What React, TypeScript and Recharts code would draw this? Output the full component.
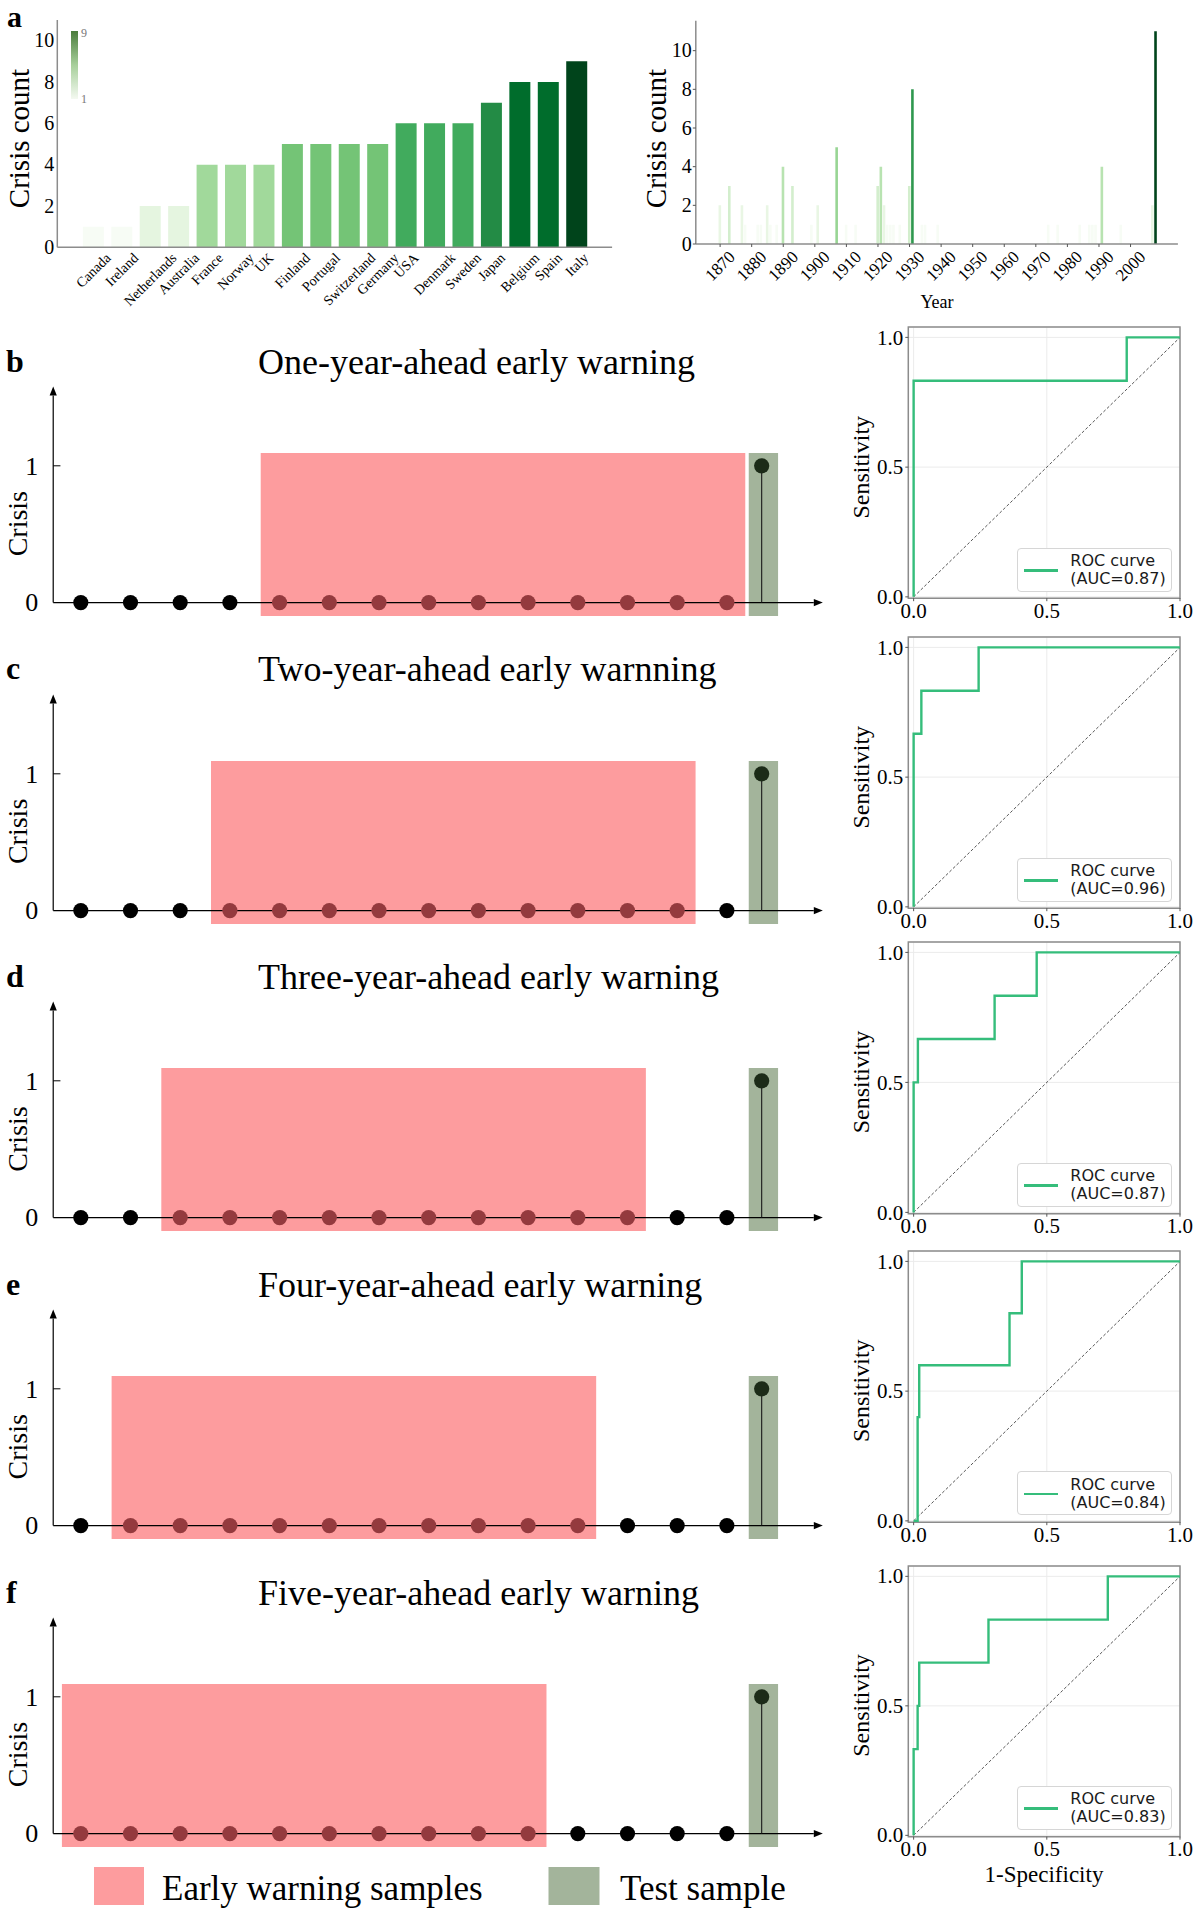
import React from "react";
import {
  BarChart,
  Bar,
  Cell,
  XAxis,
  YAxis,
  ScatterChart,
  Scatter,
  LineChart,
  Line,
  CartesianGrid,
  ReferenceArea,
  ReferenceLine,
  Legend,
} from "recharts";

const SERIF = '"Liberation Serif", "Times New Roman", serif';
const SANS = '"DejaVu Sans", sans-serif';
const FRAME = "#8c8c8c";
const ROC_GREEN = "#35bd7b";

// panel a (left): crises per country
const countries = [
  "Canada", "Ireland", "Netherlands", "Australia", "France", "Norway", "UK",
  "Finland", "Portugal", "Switzerland", "Germany", "USA", "Denmark", "Sweden",
  "Japan", "Belgium", "Spain", "Italy",
];
const countryCrises = [1, 1, 2, 2, 4, 4, 4, 5, 5, 5, 5, 6, 6, 6, 7, 8, 8, 9];
const countTicks = [0, 2, 4, 6, 8, 10];

// panel a (right): crises per year
const crisisYears = [
  1870, 1873, 1877, 1878, 1882, 1883, 1885, 1886, 1888, 1890, 1893, 1899, 1901,
  1907, 1910, 1913, 1920, 1921, 1922, 1923, 1924, 1925, 1927, 1930, 1931, 1934,
  1935, 1939, 1974, 1977, 1984, 1987, 1988, 1989, 1991, 1997, 2007, 2008,
];
const yearCrises = [
  2, 3, 2, 1, 1, 1, 2, 1, 1, 4, 3, 1, 2, 5, 1, 1, 3, 4, 2, 1, 1, 1, 1, 3, 8, 1,
  1, 1, 1, 1, 1, 1, 1, 1, 4, 1, 2, 11,
];
const yearTicks = [1870, 1880, 1890, 1900, 1910, 1920, 1930, 1940, 1950, 1960, 1970, 1980, 1990, 2000];

// panels b-f: early warning timelines
const panelLetters = ["b", "c", "d", "e", "f"];
const warningTitles = [
  "One-year-ahead early warning",
  "Two-year-ahead early warnning",
  "Three-year-ahead early warning",
  "Four-year-ahead early warning",
  "Five-year-ahead early warning",
];
const sampleIndex = [0, 1, 2, 3, 4, 5, 6, 7, 8, 9, 10, 11, 12, 13];
const sampleCrisis = [0, 0, 0, 0, 0, 0, 0, 0, 0, 0, 0, 0, 0, 0];
const warningStart = [4, 3, 2, 1, 0];
const warningLength = 10;
const testIndex = 13.7;
const testCrisis = 1;

// ROC curves
const fprOne = [0, 0, 0.8, 0.8, 1];
const tprOne = [0, 0.833, 0.833, 1, 1];
const fprTwo = [0, 0, 0.029, 0.029, 0.244, 0.244, 1];
const tprTwo = [0, 0.667, 0.667, 0.833, 0.833, 1, 1];
const fprThree = [0, 0, 0.016, 0.016, 0.304, 0.304, 0.462, 0.462, 1];
const tprThree = [0, 0.5, 0.5, 0.667, 0.667, 0.833, 0.833, 1, 1];
const fprFour = [0, 0.015, 0.015, 0.021, 0.021, 0.36, 0.36, 0.406, 0.406, 1];
const tprFour = [0, 0, 0.4, 0.4, 0.6, 0.6, 0.8, 0.8, 1, 1];
const fprFive = [0, 0, 0.015, 0.015, 0.021, 0.021, 0.281, 0.281, 0.729, 0.729, 1];
const tprFive = [0, 0.333, 0.333, 0.5, 0.5, 0.667, 0.667, 0.833, 0.833, 1, 1];
const rocFpr = [fprOne, fprTwo, fprThree, fprFour, fprFive];
const rocTpr = [tprOne, tprTwo, tprThree, tprFour, tprFive];
const aucValues = [0.87, 0.96, 0.87, 0.84, 0.83];
const rocTicks = [0, 0.5, 1];

// layout (page px)
const timelineZero = [602.7, 910.4, 1218.1, 1525.8, 1833.5];
const TL_UNIT = 136.8;
const rocOne = [337.5, 647.5, 952, 1261, 1576];
const rocZero = [597, 907, 1212, 1520.5, 1835];

const GREENS = ["#f7fcf5", "#e5f5e0", "#c7e9c0", "#a1d99b", "#74c476", "#41ab5d", "#238b45", "#006d2c", "#00441b"];

function greens(t: number) {
  const p = Math.max(0, Math.min(1, t)) * 8;
  const i = Math.min(7, Math.floor(p));
  const f = p - i;
  const a = GREENS[i], b = GREENS[i + 1];
  const ch = (h: string, k: number) => parseInt(h.slice(1 + 2 * k, 3 + 2 * k), 16);
  const mix = [0, 1, 2].map((k) => Math.round(ch(a, k) + (ch(b, k) - ch(a, k)) * f));
  return `rgb(${mix.join(",")})`;
}

let measureCtx: CanvasRenderingContext2D | null = null;
function textWidth(s: string, size: number) {
  if (!measureCtx && typeof document !== "undefined") {
    measureCtx = document.createElement("canvas").getContext("2d");
  }
  if (!measureCtx) return s.length * size * 0.5;
  measureCtx.font = `${size}px "Liberation Serif"`;
  return measureCtx.measureText(s).width;
}

// rotated tick, centred under the tick like matplotlib rotation=45
const slantTick = (fontSize: number, pad: number) => (props: any) => {
  const { x, y, payload } = props;
  const label = String(payload.value);
  const d = (textWidth(label, fontSize) + fontSize * 0.68) / (2 * Math.SQRT2);
  const cy = y + pad + d;
  return (
    <text
      x={x}
      y={cy}
      textAnchor="middle"
      dominantBaseline="central"
      fontSize={fontSize}
      fontFamily={SERIF}
      fill="#000"
      transform={`rotate(-45 ${x} ${cy})`}
    >
      {label}
    </text>
  );
};

const leftTick = (fontSize: number, fmt?: (v: number) => string) => (props: any) => {
  const { x, y, payload } = props;
  return (
    <text x={x} y={y} dy="0.34em" textAnchor="end" fontSize={fontSize} fontFamily={SERIF} fill="#000">
      {fmt ? fmt(payload.value) : payload.value}
    </text>
  );
};

const bottomTick = (fontSize: number, fmt?: (v: number) => string) => (props: any) => {
  const { x, y, payload } = props;
  return (
    <text x={x} y={y} dy="0.7em" textAnchor="middle" fontSize={fontSize} fontFamily={SERIF} fill="#000">
      {fmt ? fmt(payload.value) : payload.value}
    </text>
  );
};

const oneDecimal = (v: number) => v.toFixed(1);

const arrowLine = (props: any) => {
  const { x1, y1, x2, y2 } = props;
  const dx = x2 - x1, dy = y2 - y1;
  const len = Math.hypot(dx, dy) || 1;
  const ux = dx / len, uy = dy / len;
  const L = 9, w = 3.6;
  const bx = x2 - ux * L, by = y2 - uy * L;
  const pts = `${x2},${y2} ${bx - uy * w},${by + ux * w} ${bx + uy * w},${by - ux * w}`;
  return (
    <g>
      <line x1={x1} y1={y1} x2={bx} y2={by} stroke="#000" strokeWidth={1.2} />
      <polygon points={pts} fill="#000" />
    </g>
  );
};

const sampleDot = (props: any) => {
  const { cx, cy, payload } = props;
  return <circle cx={cx} cy={cy} r={7.6} fill={payload && payload.inWindow ? "#943a3e" : "#000"} />;
};
const testDot = (props: any) => <circle cx={props.cx} cy={props.cy} r={7.6} fill="#1c2b18" />;

const countryData = countries.map((c, i) => ({ country: c, crises: countryCrises[i] }));
const yearData = crisisYears.map((y, i) => ({ year: y, crises: yearCrises[i] }));

function CountryChart() {
  const frame = { stroke: FRAME, strokeWidth: 1.5 };
  return (
    <div style={{ position: "absolute", left: 0, top: 0, fontFamily: SERIF }}>
      <BarChart width={620} height={320} data={countryData} margin={{ top: 20, right: 7.9, bottom: 0, left: 0 }} barCategoryGap="12.5%">
        <XAxis
          dataKey="country"
          interval={0}
          height={72.7}
          padding={{ left: 22, right: 21 }}
          tickLine={false}
          tickSize={0}
          tickMargin={0}
          axisLine={frame}
          tick={slantTick(14, 5)}
        />
        <XAxis xAxisId="top" orientation="top" dataKey="country" height={0} tick={false} tickLine={false} axisLine={frame} padding={{ left: 22, right: 21 }} />
        <YAxis
          domain={[0, 11]}
          allowDataOverflow
          ticks={countTicks}
          width={57.3}
          tickLine={false}
          tickSize={0}
          tickMargin={3}
          axisLine={frame}
          tick={leftTick(20)}
        />
        <YAxis yAxisId="right" orientation="right" domain={[0, 11]} width={0} tick={false} tickLine={false} axisLine={frame} />
        <Bar dataKey="crises" isAnimationActive={false}>
          {countryData.map((d, i) => (
            <Cell key={i} fill={greens((d.crises - 1) / 8)} />
          ))}
        </Bar>
      </BarChart>
    </div>
  );
}

function YearChart() {
  const frame = { stroke: FRAME, strokeWidth: 1.5 };
  const maxC = Math.max(...yearCrises);
  return (
    <div style={{ position: "absolute", left: 620, top: 0, fontFamily: SERIF }}>
      <BarChart width={580} height={320} data={yearData} margin={{ top: 20.7, right: 22.1, bottom: 0, left: 0 }}>
        <XAxis
          dataKey="year"
          type="number"
          domain={[1862.3, 2015]}
          allowDataOverflow
          ticks={yearTicks}
          interval={0}
          height={76}
          tickSize={3}
          tickMargin={0}
          tickLine={{ stroke: "#555" }}
          axisLine={frame}
          tick={slantTick(17, 3)}
        />
        <XAxis xAxisId="top" orientation="top" dataKey="year" type="number" domain={[1862.3, 2015]} allowDataOverflow height={0} tick={false} tickLine={false} axisLine={frame} />
        <YAxis
          domain={[0, 11.55]}
          allowDataOverflow
          ticks={countTicks}
          width={75.8}
          tickSize={3}
          tickMargin={1}
          tickLine={{ stroke: "#555" }}
          axisLine={frame}
          tick={leftTick(20)}
        />
        <YAxis yAxisId="right" orientation="right" domain={[0, 11.55]} width={0} tick={false} tickLine={false} axisLine={frame} />
        <Bar dataKey="crises" barSize={2.6} isAnimationActive={false}>
          {yearData.map((d, i) => (
            <Cell key={i} fill={greens((d.crises - 1) / (maxC - 1))} />
          ))}
        </Bar>
      </BarChart>
    </div>
  );
}

function TimelinePanel({ k }: { k: number }) {
  const zero = timelineZero[k];
  const top = zero - 1.62 * TL_UNIT - 8;
  const height = 16 + 1.77 * TL_UNIT;
  const start = warningStart[k];
  const end = start + warningLength - 1;
  const dots = sampleIndex.map((i, j) => ({ x: i, y: sampleCrisis[j], inWindow: i >= start && i <= end }));
  const test = [{ x: testIndex, y: testCrisis }];
  return (
    <div style={{ position: "absolute", left: 0, top, fontFamily: SERIF }}>
      <ScatterChart width={840} height={height} margin={{ top: 8, right: 13.7, bottom: 8, left: 0 }}>
        <XAxis type="number" dataKey="x" domain={[-0.555, 15]} allowDataOverflow hide />
        <YAxis
          type="number"
          dataKey="y"
          domain={[-0.15, 1.62]}
          allowDataOverflow
          ticks={[0, 1]}
          width={53.2}
          axisLine={false}
          tickLine={false}
          tickSize={0}
          tickMargin={15}
          tick={leftTick(26)}
        />
        <ReferenceArea x1={start - 0.38} x2={end + 0.37} y1={-0.097} y2={1.093} fill="#fd9c9e" fillOpacity={1} stroke="none" ifOverflow="visible" />
        <ReferenceArea x1={testIndex - 0.26} x2={testIndex + 0.33} y1={-0.097} y2={1.093} fill="#a3b49b" fillOpacity={1} stroke="none" ifOverflow="visible" />
        <ReferenceLine segment={[{ x: -0.555, y: 0 }, { x: 14.93, y: 0 }]} shape={arrowLine} ifOverflow="visible" />
        <ReferenceLine segment={[{ x: -0.555, y: 0 }, { x: -0.555, y: 1.58 }]} shape={arrowLine} ifOverflow="visible" />
        <ReferenceLine segment={[{ x: -0.555, y: 1 }, { x: -0.41, y: 1 }]} stroke="#000" strokeWidth={1} ifOverflow="visible" />
        <ReferenceLine segment={[{ x: testIndex, y: 0 }, { x: testIndex, y: testCrisis }]} stroke="#1a1a1a" strokeWidth={1.1} ifOverflow="visible" />
        <Scatter data={dots} shape={sampleDot} isAnimationActive={false} />
        <Scatter data={test} shape={testDot} isAnimationActive={false} />
      </ScatterChart>
    </div>
  );
}

function RocPanel({ k }: { k: number }) {
  const one = rocOne[k], zero = rocZero[k];
  const u = zero - one;
  const plotTop = one - 0.04 * u;
  const plotBottom = zero + 0.005 * u;
  const top = plotTop - 10;
  const height = 10 + (plotBottom - plotTop) + 32;
  const data = rocFpr[k].map((f, i) => ({ fpr: f, tpr: rocTpr[k][i] }));
  const legendTop = zero - 49 - top;
  return (
    <div style={{ position: "absolute", left: 840, top, fontFamily: SERIF }}>
      <LineChart width={360} height={height} data={data} margin={{ top: 10, right: 20, bottom: 2, left: 0 }}>
        <CartesianGrid stroke="#ebebeb" strokeWidth={1} />
        <XAxis
          type="number"
          dataKey="fpr"
          domain={[-0.02, 1]}
          allowDataOverflow
          ticks={rocTicks}
          height={30}
          tickSize={3}
          tickMargin={2}
          axisLine={false}
          tickLine={{ stroke: "#555" }}
          tick={bottomTick(21, oneDecimal)}
        />
        <YAxis
          type="number"
          domain={[-0.005, 1.04]}
          allowDataOverflow
          ticks={rocTicks}
          width={68.3}
          tickSize={3}
          tickMargin={2}
          axisLine={false}
          tickLine={{ stroke: "#555" }}
          tick={leftTick(21, oneDecimal)}
        />
        <ReferenceArea x1={-0.02} x2={1} y1={-0.005} y2={1.04} fill="none" stroke={FRAME} strokeWidth={1.5} ifOverflow="visible" />
        <ReferenceLine segment={[{ x: 0, y: 0 }, { x: 1, y: 1 }]} stroke="#444" strokeDasharray="3 2" strokeWidth={0.9} ifOverflow="visible" />
        <Line type="linear" dataKey="tpr" name="ROC curve" stroke={ROC_GREEN} strokeWidth={2.4} dot={false} isAnimationActive={false} />
        <Legend
          layout="vertical"
          align="center"
          verticalAlign="middle"
          wrapperStyle={{ left: 176.7, top: legendTop, width: 155, height: 44 }}
          content={() => (
            <div
              style={{
                position: "relative",
                width: 155,
                height: 44,
                boxSizing: "border-box",
                border: "1px solid #d6d6d6",
                borderRadius: 4,
                background: "#fff",
                fontFamily: SANS,
                fontSize: 16,
                color: "#1a1a1a",
                lineHeight: "18.3px",
              }}
            >
              <div style={{ position: "absolute", left: 6, top: 20.5, width: 34, height: 2.4, background: ROC_GREEN }} />
              <div style={{ position: "absolute", left: 52.6, top: 3.2, whiteSpace: "nowrap" }}>
                ROC curve
                <br />
                (AUC={aucValues[k].toFixed(2)})
              </div>
            </div>
          )}
        />
      </LineChart>
    </div>
  );
}

function Annotations() {
  const rot = (x: number, y: number) => `rotate(-90 ${x} ${y})`;
  return (
    <svg width={1200} height={1912} style={{ position: "absolute", left: 0, top: 0, pointerEvents: "none" }}>
      <defs>
        <linearGradient id="cbar" x1="0" y1="1" x2="0" y2="0">
          <stop offset="0" stopColor="#f4f9f1" />
          <stop offset="0.5" stopColor="#a7cf9b" />
          <stop offset="1" stopColor="#4a7c3c" />
        </linearGradient>
      </defs>
      <g fontFamily={SERIF} fill="#000">
        <text x={7} y={27} fontSize={30} fontWeight="bold">a</text>
        <text x={29} y={138.5} fontSize={29} textAnchor="middle" transform={rot(29, 138.5)}>Crisis count</text>
        <text x={666} y={138.5} fontSize={29} textAnchor="middle" transform={rot(666, 138.5)}>Crisis count</text>
        <text x={937} y={307.5} fontSize={18} textAnchor="middle">Year</text>
        <rect x={71} y={31} width={7} height={68} fill="url(#cbar)" />
        <text x={81} y={37} fontSize={12} fill="#777">{Math.max(...countryCrises)}</text>
        <text x={81} y={103} fontSize={12} fill="#777">{Math.min(...countryCrises)}</text>
        {timelineZero.map((z, k) => (
          <g key={k}>
            <text x={6} y={z - 231} fontSize={32} fontWeight="bold">{panelLetters[k]}</text>
            <text x={258} y={z - 229} fontSize={36}>{warningTitles[k]}</text>
            <text x={27} y={z - 79} fontSize={28} textAnchor="middle" transform={rot(27, z - 79)}>Crisis</text>
          </g>
        ))}
        {rocZero.map((z, k) => {
          const cy = (z + rocOne[k]) / 2;
          return (
            <text key={k} x={869} y={cy} fontSize={24} textAnchor="middle" transform={rot(869, cy)}>Sensitivity</text>
          );
        })}
        <text x={1044} y={1882} fontSize={23} textAnchor="middle">1-Specificity</text>
        <rect x={94} y={1867} width={50} height={38} fill="#fd9c9e" />
        <text x={162} y={1900} fontSize={35}>Early warning samples</text>
        <rect x={548.5} y={1867} width={51} height={38} fill="#a3b49b" />
        <text x={620} y={1900} fontSize={35}>Test sample</text>
      </g>
    </svg>
  );
}

export default function App() {
  return (
    <div style={{ position: "absolute", left: 0, top: 0, width: 1200, height: 1912, background: "#fff", overflow: "hidden" }}>
      <CountryChart />
      <YearChart />
      {warningTitles.map((_, k) => (
        <TimelinePanel key={k} k={k} />
      ))}
      {aucValues.map((_, k) => (
        <RocPanel key={k} k={k} />
      ))}
      <Annotations />
    </div>
  );
}
